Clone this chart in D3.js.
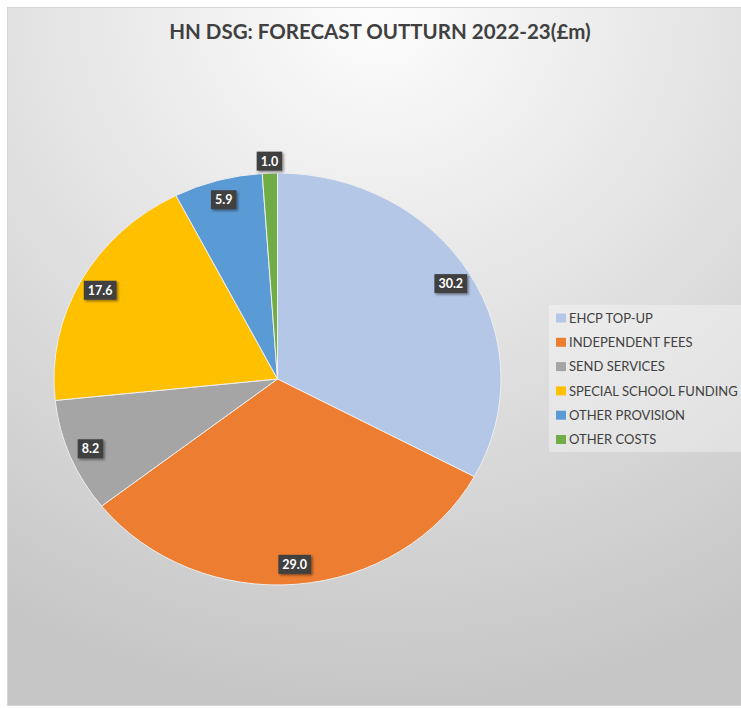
<!DOCTYPE html>
<html>
<head>
<meta charset="utf-8" />
<script src="https://d3js.org/d3.v7.min.js"></script>
<style>
    body { margin: 0; background: #ffffff; }
    svg { display: block; }
</style>
</head>
<body>
<div id="visu"></div>
<script>

    // Données du graphique (en £m)
    const categories = ["EHCP TOP-UP", "INDEPENDENT FEES", "SEND SERVICES", "SPECIAL SCHOOL FUNDING", "OTHER PROVISION", "OTHER COSTS"];
    const valeurs = [30.2, 29.0, 8.2, 17.6, 5.9, 1.0];
    const etiquettes = ["30.2", "29.0", "8.2", "17.6", "5.9", "1.0"];
    const couleurs = ["#B4C7E7", "#ED7D31", "#A5A5A5", "#FFC000", "#5B9BD5", "#70AD47"];
    const titre = "HN DSG: FORECAST OUTTURN 2022-23(£m)";

    // Dimensions
    const largeur = 741;
    const hauteur = 708;

    const svg = d3.select('#visu')
        .append('svg')
        .attr('width', largeur)
        .attr('height', hauteur);

    const defs = svg.append('defs');

    // Fond dégradé (blanc en haut, gris en bas)
    const grad = defs.append('radialGradient')
        .attr('id', 'fond')
        .attr('cx', '50%').attr('cy', '0%')
        .attr('fx', '50%').attr('fy', '0%')
        .attr('r', '100%');
    grad.append('stop').attr('offset', '0%').attr('stop-color', '#fdfdfd');
    grad.append('stop').attr('offset', '100%').attr('stop-color', '#c6c6c6');

    // Ombre des étiquettes
    const ombre = defs.append('filter').attr('id', 'ombre')
        .attr('x', '-30%').attr('y', '-30%').attr('width', '160%').attr('height', '160%');
    ombre.append('feDropShadow')
        .attr('dx', 1.5).attr('dy', 1.5)
        .attr('stdDeviation', 1)
        .attr('flood-color', '#000')
        .attr('flood-opacity', 0.45);

    svg.append('rect')
        .attr('x', 7.5).attr('y', 7.5)
        .attr('width', largeur).attr('height', hauteur - 10)
        .attr('fill', 'url(#fond)')
        .attr('stroke', '#d4d4d4');

    // Titre
    svg.append('text')
        .attr('x', 380)
        .attr('y', 39)
        .attr('text-anchor', 'middle')
        .attr('font-family', 'Lato, "Open Sans", sans-serif')
        .attr('font-weight', 'bold')
        .attr('font-size', 20.5)
        .attr('fill', '#404040')
        .text(titre);

    // Camembert (légèrement étiré horizontalement)
    const centre = {x: 277.5, y: 379};
    const rayon = 206;
    const etirement = 1.085;

    const pie = d3.pie().sort(null).value(d => d);
    const arcs = pie(valeurs);

    const arc = d3.arc().innerRadius(0).outerRadius(rayon);

    svg.append('g')
        .attr('transform', `translate(${centre.x}, ${centre.y}) scale(${etirement}, 1)`)
        .selectAll('path')
        .data(arcs)
        .enter()
        .append('path')
        .attr('d', arc)
        .attr('fill', (d, i) => couleurs[i])
        .attr('stroke', '#eeeeee')
        .attr('stroke-width', 1)
        .attr('vector-effect', 'non-scaling-stroke');

    // Étiquettes : à l'intérieur, sauf les petites parts qui vont à l'extérieur
    const arcInterieur = d3.arc().innerRadius(rayon - 20).outerRadius(rayon - 20);
    const arcExterieur = d3.arc().innerRadius(rayon + 12).outerRadius(rayon + 12);

    const groupesEtiquettes = svg.append('g')
        .selectAll('g')
        .data(arcs)
        .enter()
        .append('g')
        .attr('transform', (d, i) => {
            const c = (d.value < 2 ? arcExterieur : arcInterieur).centroid(d);
            return `translate(${centre.x + c[0] * etirement}, ${centre.y + c[1]})`;
        });

    groupesEtiquettes.append('text')
        .attr('text-anchor', 'middle')
        .attr('dy', '0.36em')
        .attr('font-family', 'Lato, "Open Sans", sans-serif')
        .attr('font-weight', 'bold')
        .attr('font-size', 12.5)
        .attr('fill', '#ffffff')
        .text((d, i) => etiquettes[i]);

    groupesEtiquettes.each(function() {
        const g = d3.select(this);
        const b = g.select('text').node().getBBox();
        g.insert('rect', 'text')
            .attr('x', b.x - 4)
            .attr('y', -9.5)
            .attr('width', b.width + 8)
            .attr('height', 19)
            .attr('fill', '#404040')
            .attr('filter', 'url(#ombre)');
    });

    // Légende
    const legende = svg.append('g');
    legende.append('rect')
        .attr('x', 549).attr('y', 305)
        .attr('width', 200).attr('height', 147)
        .attr('fill', '#ffffff')
        .attr('fill-opacity', 0.35);

    const pas = 24.3;
    const items = legende.selectAll('.item')
        .data(categories)
        .enter()
        .append('g')
        .attr('class', 'item')
        .attr('transform', (d, i) => `translate(556, ${318 + i * pas})`);

    items.append('rect')
        .attr('x', 0).attr('y', -4.5)
        .attr('width', 10).attr('height', 9)
        .attr('fill', (d, i) => couleurs[i]);

    items.append('text')
        .attr('x', 13)
        .attr('dy', '0.36em')
        .attr('font-family', 'Lato, "Open Sans", sans-serif')
        .attr('font-size', 13)
        .attr('fill', '#404040')
        .text(d => d);

</script>
</body>
</html>
